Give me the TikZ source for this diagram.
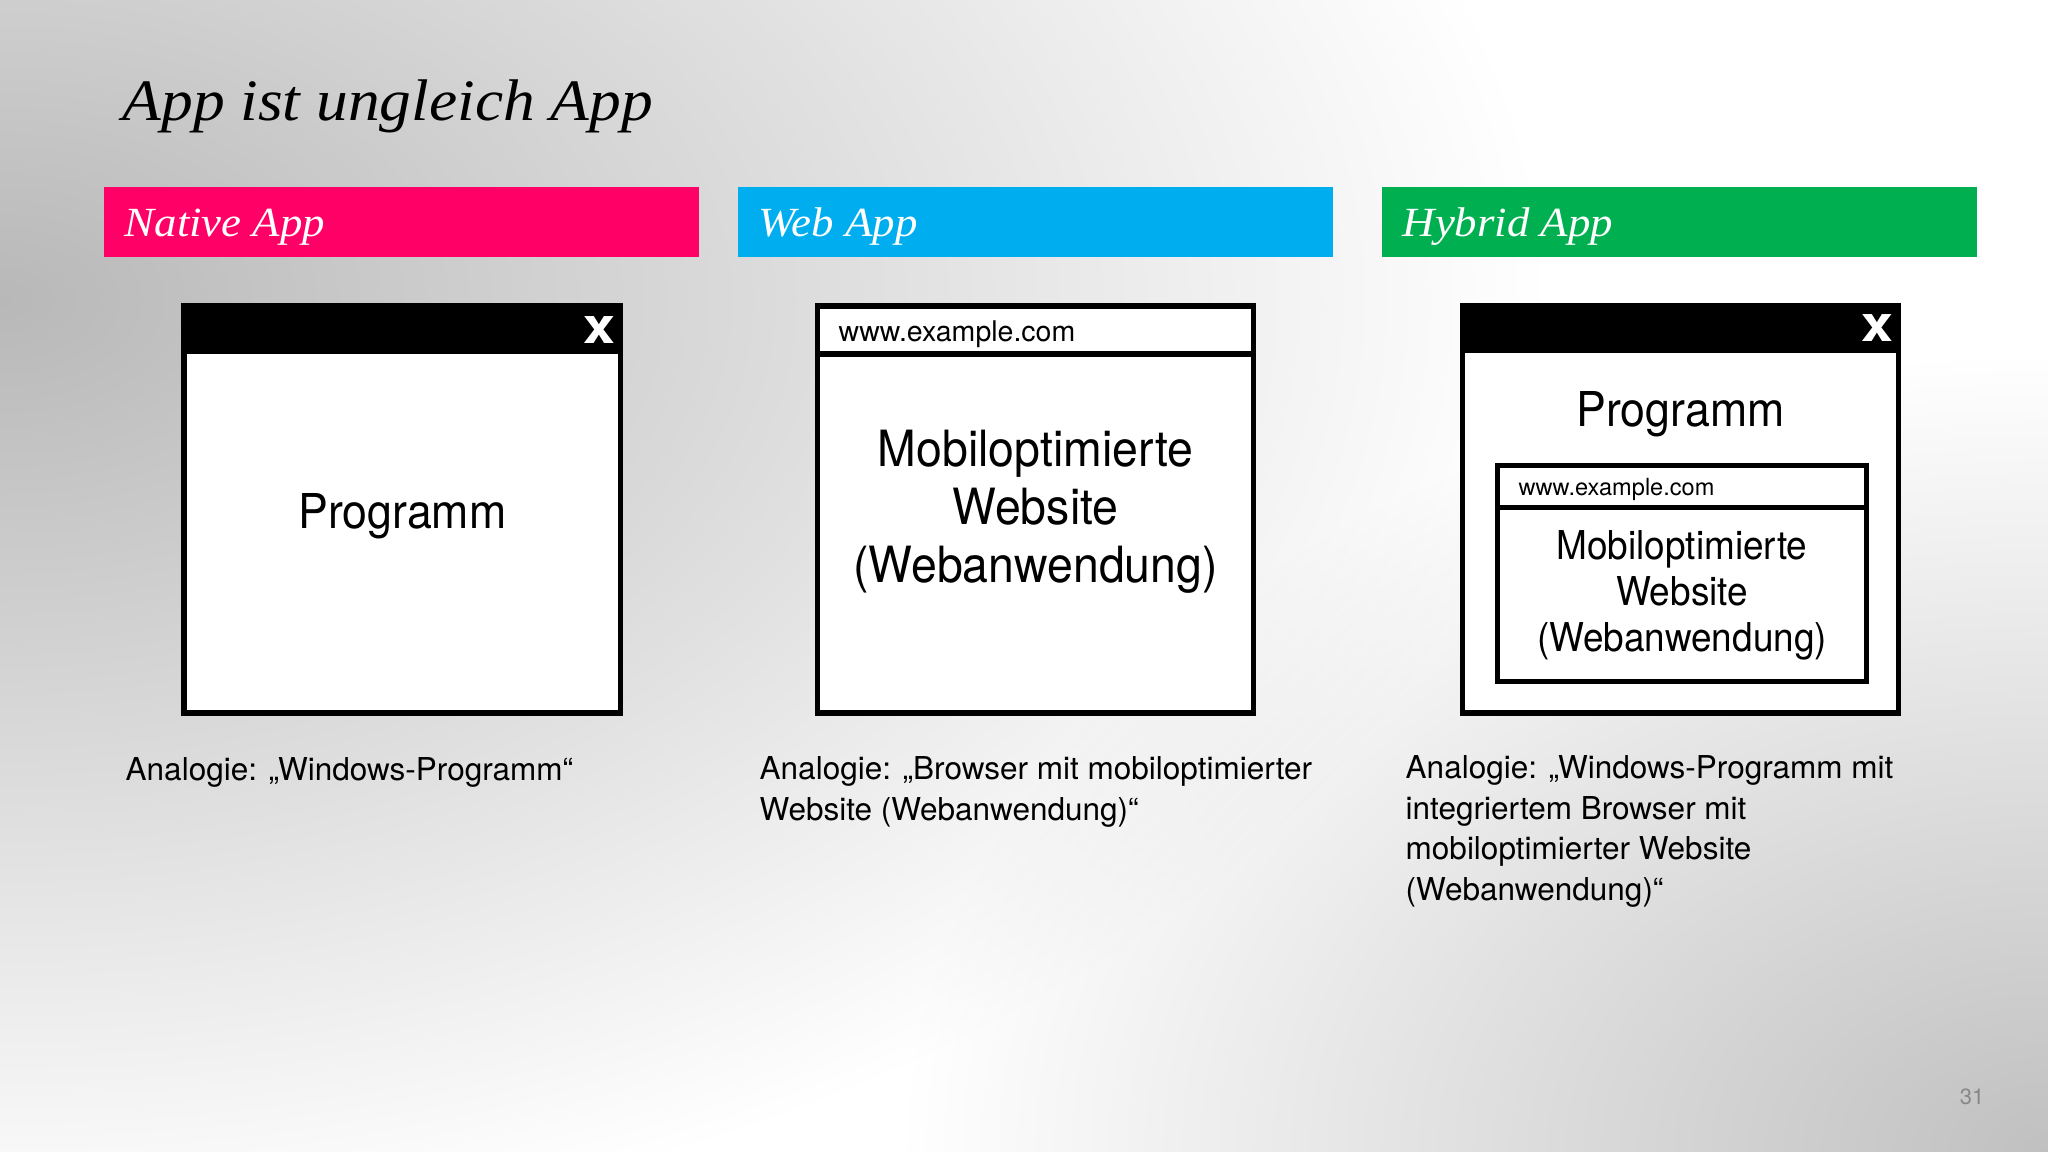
\documentclass[tikz,border=0pt]{standalone}
\usepackage{fontspec}
\setmainfont{TeX Gyre Heros}
\newfontfamily\headfont{Liberation Serif}[FakeStretch=1.08]
\newfontfamily\narrowfont{TeX Gyre Heros}[FakeStretch=0.93]
\newfontfamily\closefont{TeX Gyre Heros}[FakeStretch=1.15]
\usepackage{tikz}
\usetikzlibrary{positioning}
\definecolor{tmagenta}{RGB}{255,0,102}
\definecolor{tblue}{RGB}{0,174,239}
\definecolor{tgreen}{RGB}{0,176,80}
\definecolor{bgdark}{RGB}{184,184,184}
\definecolor{bglight}{RGB}{192,192,192}
\definecolor{pagegray}{RGB}{135,135,135}

\begin{document}
\begin{tikzpicture}[
    x=0.01cm, y=-0.01cm,
    bar/.style = {rectangle, anchor=north west, minimum width=5.95cm, minimum height=0.70cm, inner sep=0pt, outer sep=0pt},
    bartext/.style = {anchor=base west, inner sep=0pt, text=white, font=\headfont\itshape\fontsize{11.8pt}{14pt}\selectfont},
    window/.style = {rectangle, draw=black, fill=white, line width=1.56pt, minimum width=4.36cm, minimum height=4.07cm, inner sep=0pt, outer sep=0pt},
    browser/.style = {window, line width=1.42pt, minimum width=3.69cm, minimum height=2.15cm},
    closex/.style = {text=white, inner sep=0pt, font=\closefont\bfseries\fontsize{14.2pt}{16pt}\selectfont},
    wintext/.style = {anchor=base, align=center, inner sep=0pt},
    url/.style = {anchor=base west, inner sep=0pt},
    analogy/.style = {anchor=base west, align=left, inner sep=0pt, font=\fontsize{8.96pt}{11.52pt}\selectfont}
]
    % background
    \useasboundingbox (0,0) rectangle (2048,1152);
    \begin{scope}
        \clip (0,0) rectangle (2048,1152);
        \fill[white] (0,0) rectangle (2048,1152);
        \shade[inner color=bgdark, outer color=white] (0,300) ellipse (1550 and 950);
        \shade[blend mode=multiply, inner color=bglight, outer color=white] (2048,1152) ellipse (1150 and 800);
    \end{scope}

    \node[anchor=base west, inner sep=0pt, font=\headfont\itshape\fontsize{16.7pt}{20pt}\selectfont] (title) at (122,121) {App ist ungleich App};

    % column headers
    \node[bar, fill=tmagenta] (native) at (104,187) {};
    \node[bar, fill=tblue] (web) at (738,187) {};
    \node[bar, fill=tgreen] (hybrid) at (1382,187) {};
    \node[bartext] (native-t) at ([xshift=0.2cm, yshift=-0.14cm]native.west) {Native App};
    \node[bartext] (web-t) at ([xshift=0.2cm, yshift=-0.14cm]web.west) {Web App};
    \node[bartext] (hybrid-t) at ([xshift=0.2cm, yshift=-0.14cm]hybrid.west) {Hybrid App};

    % native app window
    \node[window] (win1) at (402.3,509.5) {};
    \fill (win1.north west) rectangle ([yshift=-0.48cm]win1.north east);
    \node[closex] (close1) at (599,330) {x};
    \node[wintext, font=\narrowfont\fontsize{13.66pt}{16pt}\selectfont] (prog1) at (402.3,529) {Programm};

    % web app window (base = last line)
    \node[window] (win2) at (1035.5,509.5) {};
    \draw[line width=1.56pt] ([yshift=-0.48cm]win2.north west) -- ([yshift=-0.48cm]win2.north east);
    \node[url, font=\fontsize{8.1pt}{10pt}\selectfont] (url2) at (838,342) {www.example.com};
    \node[wintext, font=\narrowfont\fontsize{14.2pt}{16.56pt}\selectfont] (site2) at (1035.5,583) {Mobiloptimierte\\Website\\(Webanwendung)};

    % hybrid app window
    \node[window] (win3) at (1680.5,509.5) {};
    \fill (win3.north west) rectangle ([yshift=-0.47cm]win3.north east);
    \node[closex] (close3) at (1877.5,328) {x};
    \node[wintext, font=\narrowfont\fontsize{13.66pt}{16pt}\selectfont] (prog3) at (1680.5,427) {Programm};
    \node[browser] (br3) at (1682,573.5) {};
    \draw[line width=1.42pt] ([yshift=-0.415cm]br3.north west) -- ([yshift=-0.415cm]br3.north east);
    \node[url, font=\fontsize{6.7pt}{8pt}\selectfont] (url3) at (1518,495) {www.example.com};
    \node[wintext, font=\narrowfont\fontsize{11.3pt}{13.09pt}\selectfont] (site3) at (1682,651.7) {Mobiloptimierte\\Website\\(Webanwendung)};

    % analogies
    \node[analogy] (ana1) at (125,780) {Analogie: „Windows-Programm“};
    \node[analogy] (ana2) at (759,820.5) {Analogie: „Browser mit mobiloptimierter\\Website (Webanwendung)“};
    \node[analogy] (ana3) at (1405,900.5) {Analogie: „Windows-Programm mit\\integriertem Browser mit\\mobiloptimierter Website\\(Webanwendung)“};

    \node[anchor=base east, inner sep=0pt, text=pagegray, font=\fontsize{6.26pt}{8pt}\selectfont] (page) at (1985,1104) {31};
\end{tikzpicture}
\end{document}
